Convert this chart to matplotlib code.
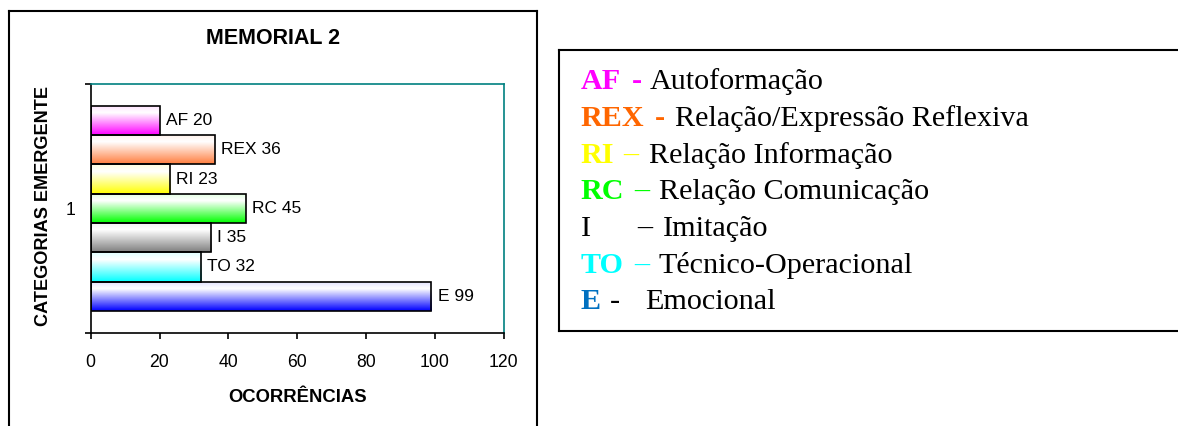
import matplotlib
matplotlib.use("Agg")
import matplotlib.pyplot as plt
import numpy as np
from matplotlib.colors import to_rgb
from matplotlib.lines import Line2D

# data
codes = ["AF", "REX", "RI", "RC", "I", "TO", "E"]
values = [20, 36, 23, 45, 35, 32, 99]
bar_colors = ["#FF00FF", "#FF7F40", "#FFFF00", "#00FF00", "#808080", "#00FFFF", "#0000FF"]
descriptions = ["Autoformação", "Relação/Expressão Reflexiva", "Relação Informação",
                "Relação Comunicação", "Imitação", "Técnico-Operacional", "Emocional"]
separators = ["-", "-", "–", "–", "–", "–", "-"]
code_colors = ["#FF00FF", "#FF6600", "#FFFF00", "#00FF00", "black", "#00FFFF", "#0070C0"]
sep_colors = ["#FF00FF", "#FF6600", "#FFFF00", "#00FF00", "black", "#00FFFF", "black"]
x_ticks = [0, 20, 40, 60, 80, 100, 120]

W, H = 1178, 426
fig = plt.figure(figsize=(W / 100, H / 100), dpi=100)
sans = ["Liberation Sans", "DejaVu Sans"]
serif = ["Liberation Serif", "DejaVu Serif"]


def fx(x):
    return x / W


def fy(y):
    return 1 - y / H


ax = fig.add_axes([fx(90.7), fy(332.5), fx(503.5) - fx(90.7), fy(84.3) - fy(332.5)])
ax.set_xlim(0, 120)
ax.set_ylim(0.5, 1.5)

bh = 0.118
n = len(codes)
for i, (code, val, col) in enumerate(zip(codes, values, bar_colors)):
    yc = 1 + (n // 2 - i) * bh
    bar = ax.barh(yc, val, height=bh, facecolor="none", edgecolor="black", linewidth=1.2, zorder=3)[0]
    t = np.linspace(0, 1, 64)
    f = np.interp(t, [0, 0.25, 1], [0.12, 0.0, 1.0])
    c = np.array(to_rgb(col))
    grad = (1 - f)[:, None] * np.ones(3) + f[:, None] * c
    im = ax.imshow(grad[:, None, :], extent=(0, val, yc - bh / 2, yc + bh / 2),
                   origin="upper", aspect="auto", zorder=2, interpolation="bilinear")
    im.set_clip_path(bar)
    ax.annotate(f"{code} {val}", (val, yc), xytext=(4.5, 0), textcoords="offset points",
                va="center", ha="left", fontsize=12.5, family=sans)

ax.set_xlim(0, 120)
ax.set_ylim(0.5, 1.5)

ax.set_xticks(x_ticks)
ax.set_xticklabels([str(v) for v in x_ticks], fontsize=12.7, family=sans)
ax.set_yticks([0.5, 1.5])
ax.set_yticklabels(["", ""])
ax.set_yticks([1], minor=True)
ax.set_yticklabels(["1"], minor=True, fontsize=12.7, family=sans)
ax.tick_params(axis="both", which="major", direction="out", length=4, width=1.2, color="black")
ax.tick_params(axis="x", pad=11.5)
ax.tick_params(axis="y", which="minor", length=0, pad=11)

for s in ["left", "bottom"]:
    ax.spines[s].set_color("black")
    ax.spines[s].set_linewidth(1.2)
for s in ["top", "right"]:
    ax.spines[s].set_color("#008080")
    ax.spines[s].set_linewidth(1.2)

ax.set_xlabel("OCORRÊNCIAS", fontsize=13.3, fontweight="bold", family=sans, labelpad=13)
fig.text(fx(44), fy(206), "CATEGORIAS EMERGENTE", rotation=90, ha="center", va="center",
         fontsize=13.1, fontweight="bold", family=sans)
fig.text(fx(273), fy(39), "MEMORIAL 2", ha="center", va="center",
         fontsize=15.5, fontweight="bold", family=sans)

# outer chart frame and the legend frame
frame_lw = 1.5
for xs, ys in [([8.5, 8.5], [440, 11]), ([8.5, 537.3], [11, 11]), ([537.3, 537.3], [11, 440]),
               ([559.3, 1190], [50, 50]), ([559.3, 559.3], [50, 330.7]), ([559.3, 1190], [330.7, 330.7])]:
    fig.add_artist(Line2D([fx(v) for v in xs], [fy(v) for v in ys], color="black",
                          linewidth=frame_lw, transform=fig.transFigure))

# text legend on the right
code_x = 580.7
sep_x = [631.7, 654.5, 623.3, 634, 637.3, 634, 610]
desc_x = [650, 675, 649.3, 659, 663.3, 658.3, 645]
base_y = 89.3
step = 36.67
fs_leg = 21.7
for i in range(n):
    y = fy(base_y + i * step)
    weight = "normal" if codes[i] == "I" else "bold"
    fig.text(fx(code_x), y, codes[i], color=code_colors[i], fontsize=fs_leg,
             fontweight=weight, family=serif, va="baseline")
    sep_weight = "bold" if separators[i] == "-" and i < 2 else "normal"
    fig.text(fx(sep_x[i]), y, separators[i], color=sep_colors[i], fontsize=fs_leg,
             fontweight=sep_weight, family=serif, va="baseline")
    fig.text(fx(desc_x[i]), y, descriptions[i], color="black", fontsize=fs_leg,
             family=serif, va="baseline")

fig.savefig("out.png", dpi=100)
